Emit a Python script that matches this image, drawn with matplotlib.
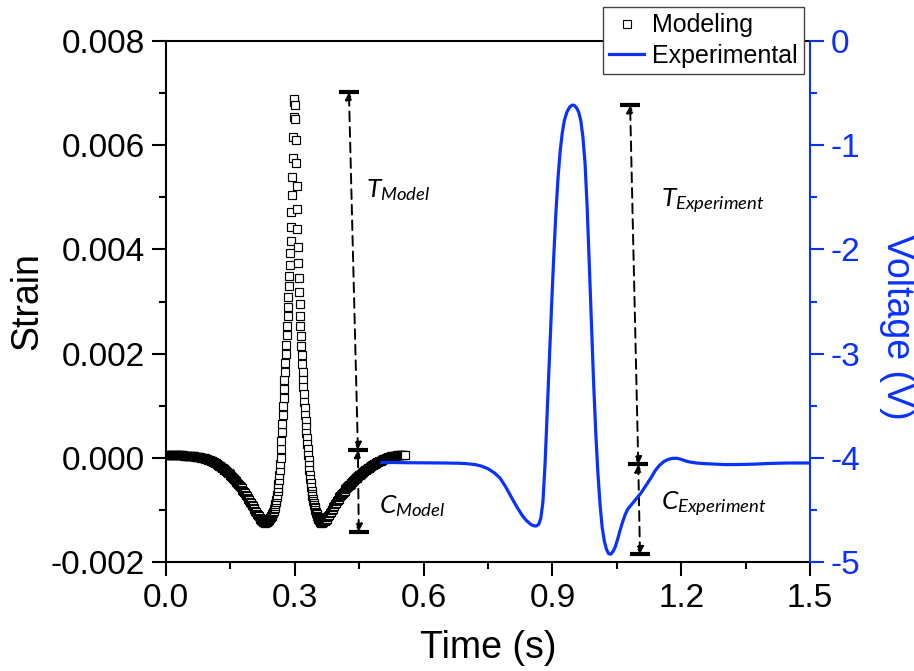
import numpy as np
import matplotlib
matplotlib.use("Agg")
import matplotlib.pyplot as plt
from matplotlib.ticker import MultipleLocator, FormatStrFormatter
from matplotlib.lines import Line2D

plt.rcParams["font.family"] = ["Liberation Sans", "DejaVu Sans"]
plt.rcParams["axes.unicode_minus"] = False
plt.rcParams["mathtext.fontset"] = "custom"
plt.rcParams["mathtext.it"] = "Lato:italic"
plt.rcParams["mathtext.rm"] = "Lato"

BLUE = "#0a32ff"

# modelled strain in microstrain, stored per time segment (start, step)
seg_a = [55, 55, 55, 55, 54, 54, 54, 53, 53, 52,
         52, 52, 51, 50, 50, 49, 48, 47, 47, 46,
         45, 44, 43, 42, 41, 40, 38, 37, 35, 34,
         32, 30, 28, 26, 24, 21, 18, 15, 12, 9,
         6, 2, -2, -5, -9, -13, -18, -23, -28, -34,
         -40, -47, -54, -62, -71, -80, -89, -99, -109, -119,
         -130, -141, -152, -164, -177, -190, -203, -216, -229, -242,
         -255, -269, -283, -298, -314, -330, -347, -364, -381, -399,
         -418, -438, -458, -479, -500, -522, -544, -566, -589, -612,
         -636, -660, -685, -710, -736, -762, -789, -816, -844, -872,
         -900, -930, -960, -990, -1019, -1047, -1074, -1100, -1125, -1148,
         -1170, -1190, -1208, -1225, -1238]
seg_b = [-1246, -1243, -1239, -1235, -1230, -1224, -1217, -1209, -1200, -1190,
         -1180, -1169, -1158, -1146, -1134, -1122, -1108, -1094, -1078, -1060,
         -1040, -1017, -991, -962, -930, -894, -854, -810, -761, -706,
         -645, -578, -504, -422, -332, -232, -122, -3, 162, 327,
         492, 657, 822, 987, 1152, 1317, 1484, 1653, 1824, 1997,
         2172, 2350, 2531, 2715, 2903, 3095, 3292, 3495, 3705, 3925,
         4165, 4430, 4720, 5040, 5390, 5760, 6150, 6540, 6820, 6880,
         6780, 6500, 6100, 5660, 5210, 4780, 4390, 4040, 3730, 3450,
         3190, 2950, 2730, 2525, 2330, 2145, 1970, 1805, 1650, 1500,
         1355, 1215, 1080, 950, 825, 705, 590, 480, 372, 266,
         162, 60, -40, -138, -232, -322, -407, -487, -561, -629,
         -690, -740, -787, -830, -869, -905, -940, -973, -1004, -1033,
         -1060, -1085, -1108, -1129, -1148, -1166, -1182, -1197, -1211, -1223,
         -1233, -1240]
seg_c = [-1244, -1242, -1234, -1222, -1206, -1187, -1166, -1143, -1118, -1092,
         -1065, -1037, -1009, -980, -951, -922, -893, -864, -836, -808,
         -784, -760, -737, -714, -692, -670, -649, -628, -608, -588,
         -569, -550, -531, -513, -495, -478, -461, -444, -428, -412,
         -396, -381, -366, -351, -336, -322, -308, -294, -280, -267,
         -254, -241, -228, -216, -204, -192, -180, -169, -158, -147,
         -136, -126, -116, -106, -96, -87, -78, -69, -60, -52,
         -44, -36, -28, -21, -14, -7, -1, 5, 11, 16,
         21, 25, 29, 33, 36, 39, 42, 44, 46, 48,
         50, 51, 52, 53, 54, 54, 55, 55]
segments = [(0.000, 0.002, seg_a), (0.230, 0.001, seg_b), (0.362, 0.002, seg_c)]

# measured voltage
t_exp = [0.503, 0.53, 0.56, 0.59, 0.62, 0.65, 0.68, 0.70, 0.72, 0.735,
         0.75, 0.765, 0.778, 0.79, 0.80, 0.81, 0.82, 0.83, 0.84, 0.85,
         0.856, 0.862, 0.868, 0.873, 0.878, 0.883, 0.888, 0.893, 0.898, 0.903,
         0.908, 0.913, 0.918, 0.923, 0.928, 0.934, 0.940, 0.946, 0.951, 0.956,
         0.961, 0.966, 0.971, 0.976, 0.981, 0.986, 0.991, 0.996, 1.001, 1.006,
         1.011, 1.016, 1.021, 1.026, 1.031, 1.036, 1.041, 1.046, 1.052, 1.058,
         1.064, 1.070, 1.076, 1.082, 1.090, 1.098, 1.106, 1.114, 1.122, 1.130,
         1.140, 1.150, 1.160, 1.170, 1.180, 1.190, 1.200, 1.210, 1.220, 1.235,
         1.250, 1.275, 1.300, 1.325, 1.350, 1.375, 1.400, 1.425, 1.450, 1.475,
         1.500]
v_exp = [-4.045, -4.045, -4.047, -4.048, -4.049, -4.050, -4.052, -4.056, -4.065, -4.080,
         -4.105, -4.145, -4.195, -4.27, -4.345, -4.42, -4.49, -4.555, -4.605, -4.64,
         -4.652, -4.655, -4.64, -4.58, -4.42, -4.05, -3.55, -3.05, -2.55, -2.08,
         -1.66, -1.32, -1.06, -0.88, -0.76, -0.68, -0.635, -0.615, -0.618, -0.64,
         -0.68, -0.76, -0.92, -1.17, -1.60, -2.15, -2.72, -3.28, -3.76, -4.15,
         -4.45, -4.67, -4.80, -4.88, -4.92, -4.925, -4.90, -4.86, -4.78, -4.69,
         -4.61, -4.54, -4.49, -4.46, -4.42, -4.38, -4.34, -4.29, -4.24, -4.19,
         -4.12, -4.07, -4.035, -4.015, -4.005, -4.005, -4.015, -4.03, -4.04, -4.05,
         -4.055, -4.06, -4.065, -4.065, -4.063, -4.06, -4.055, -4.052, -4.05, -4.05,
         -4.05]

# tension / compression markers: x of top, middle, bottom bar and strain levels
arrow_t_model = [0.426, 0.447, 0.449]
arrow_lv_model = [0.00702, 0.00015, -0.00142]
arrow_t_exp = [1.081, 1.100, 1.104]
arrow_lv_exp = [0.00677, -0.000125, -0.00185]
labels = [(r"$T_{Model}$", 0.466, 0.00501), (r"$C_{Model}$", 0.497, -0.00106),
          (r"$T_{Experiment}$", 1.153, 0.00481), (r"$C_{Experiment}$", 1.153, -0.00100)]

t_model = np.concatenate([start + step * np.arange(len(v)) for start, step, v in segments])
strain_model = np.concatenate([np.array(v) * 1e-6 for _, _, v in segments])

fig = plt.figure(figsize=(9.14, 6.71), dpi=100)
ax = fig.add_axes([166 / 914, 1 - 562 / 671, 644 / 914, 521 / 671])
ax2 = ax.twinx()

ax.plot(t_model, strain_model, ls="none", marker="s", ms=6, mfc="white",
        mec="black", mew=0.85)
ax2.plot(t_exp, v_exp, color=BLUE, lw=2.3)

ax.set_xlim(0, 1.5)
ax.set_ylim(-0.002, 0.008)
ax2.set_ylim(-5, 0)

ax.xaxis.set_major_locator(MultipleLocator(0.3))
ax.xaxis.set_minor_locator(MultipleLocator(0.15))
ax.xaxis.set_major_formatter(FormatStrFormatter("%.1f"))
ax.yaxis.set_major_locator(MultipleLocator(0.002))
ax.yaxis.set_minor_locator(MultipleLocator(0.001))
ax.yaxis.set_major_formatter(FormatStrFormatter("%.3f"))
ax2.yaxis.set_major_locator(MultipleLocator(1))
ax2.yaxis.set_minor_locator(MultipleLocator(0.5))
ax2.yaxis.set_major_formatter(FormatStrFormatter("%d"))

for a in (ax, ax2):
    a.tick_params(which="major", direction="out", length=10, width=1.5, labelsize=24, pad=5)
    a.tick_params(which="minor", direction="out", length=5, width=1.5)
ax.tick_params(axis="x", which="both", top=False)
ax2.tick_params(axis="y", which="both", colors=BLUE)

for s in ax.spines.values():
    s.set_linewidth(1.5)
ax.spines["right"].set_visible(False)
for name in ("left", "top", "bottom"):
    ax2.spines[name].set_visible(False)
ax2.spines["right"].set_color(BLUE)
ax2.spines["right"].set_linewidth(1.5)

ax.set_xlabel("Time (s)", fontsize=27, labelpad=12)
ax.set_ylabel("Strain", fontsize=27, labelpad=4)
fig.text(897 / 914, 1 - 327 / 671, "Voltage (V)", fontsize=27, color=BLUE,
         rotation=270, ha="center", va="center")


def span_marker(xs, lv):
    # dashed double arrows between the bars
    for (x0, y0), (x1, y1) in [((xs[0], lv[0]), (xs[1], lv[1])),
                               ((xs[1], lv[1]), (xs[2], lv[2]))]:
        ax.annotate("", xy=(x0, y0), xytext=(x1, y1),
                    arrowprops=dict(arrowstyle="<|-|>", color="black", lw=1.4,
                                    ls=(0, (5, 3)), mutation_scale=11,
                                    shrinkA=0, shrinkB=0))
    ax.plot(xs, lv, ls="none", marker="_", ms=14, mew=3, color="black")


span_marker(arrow_t_model, arrow_lv_model)
span_marker(arrow_t_exp, arrow_lv_exp)
for txt, x, y in labels:
    ax.text(x, y, txt, fontsize=19, ha="left", va="baseline")

handles = [Line2D([], [], ls="none", marker="s", ms=6, mfc="white", mec="black", mew=0.8),
           Line2D([], [], color=BLUE, lw=2.3)]
fig.legend(handles, ["Modeling", "Experimental"], loc="upper left",
           bbox_to_anchor=(603 / 914, 1 - 7 / 671), fontsize=18, frameon=True,
           fancybox=False, edgecolor="#444444", framealpha=1, borderaxespad=0,
           handlelength=1.4, handletextpad=0.3, labelspacing=0.25, borderpad=0.25)

fig.savefig("out.png", dpi=100)
